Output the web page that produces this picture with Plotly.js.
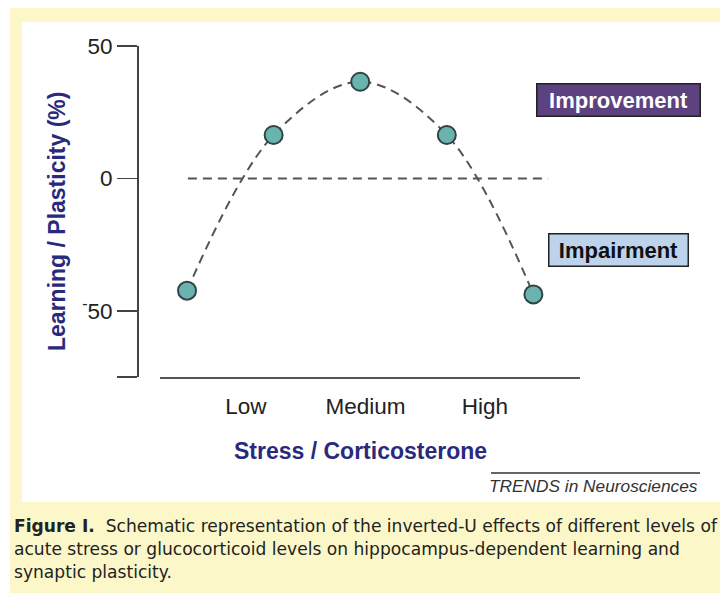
<!DOCTYPE html>
<html>
<head>
<meta charset="utf-8">
<script src="https://cdn.plot.ly/plotly-3.0.1.min.js"></script>
<style>html,body{margin:0;padding:0;background:#fff;} #chart{width:720px;height:593px;}</style>
</head>
<body>
<div id="chart"></div>
<script>
// ---- data ----
const categories = ['Low', 'Medium', 'High'];
const categoryPos = [0.68, 2.06, 3.44];
const stressLevel = [0, 1, 2, 3, 4];
const learningPct = [-42.4, 16.4, 36.5, 16.4, -43.8];
const baselineX = [0.01, 4.17];
const baselineY = [0, 0];
const yTickVals = [50, 0, -50];
const yTickText = ['50', '0', '<sup>-</sup>50'];
const yAxisEndTick = [-75];

// ---- layout helpers (pixel -> paper) ----
const W = 720, H = 593;
const px = p => p / W;
const py = p => 1 - p / H;

const FONT = 'Liberation Sans, Arial, Helvetica, sans-serif';
const NAVY = '#2a2a7c';
const CAPFONT = 'DejaVu Sans, sans-serif';

const traces = [
  {
    x: baselineX, y: baselineY, mode: 'lines', type: 'scatter',
    line: {color: '#555', width: 2, dash: '9px,6px'}, hoverinfo: 'skip', showlegend: false
  },
  {
    x: stressLevel, y: learningPct, mode: 'lines', type: 'scatter',
    line: {color: '#555', width: 2, dash: '9px,6px', shape: 'spline', smoothing: 1.0},
    hoverinfo: 'skip', showlegend: false
  },
  {
    x: stressLevel, y: learningPct, mode: 'markers', type: 'scatter',
    marker: {size: 18, color: '#6bb3ae', line: {color: '#2f4545', width: 2}},
    showlegend: false
  }
];

const layout = {
  width: W, height: H,
  margin: {l: 0, r: 0, t: 0, b: 0},
  paper_bgcolor: '#ffffff',
  plot_bgcolor: 'rgba(0,0,0,0)',
  showlegend: false,
  xaxis: {
    domain: [px(160), px(580)],
    range: [-0.312, 4.538],
    showline: true, linecolor: '#555', linewidth: 2,
    showgrid: false, zeroline: false,
    ticks: '', tickvals: categoryPos, ticktext: categories,
    ticklabelstandoff: 8,
    tickfont: {family: FONT, size: 22.5, color: '#222'},
    automargin: false, fixedrange: true
  },
  yaxis: {
    domain: [py(377), py(46)],
    range: [-75, 50],
    anchor: 'free', position: px(138),
    showline: true, linecolor: '#444', linewidth: 2,
    showgrid: false, zeroline: false,
    ticks: 'outside', ticklen: 20, tickwidth: 1.5, tickcolor: '#444',
    tickvals: yTickVals, ticktext: yTickText,
    minor: {tickvals: yAxisEndTick, ticks: 'outside', ticklen: 20, tickwidth: 1.5, tickcolor: '#444', showgrid: false},
    tickfont: {family: FONT, size: 22.5, color: '#222'},
    automargin: false, fixedrange: true
  },
  shapes: [
    {type: 'rect', xref: 'paper', yref: 'paper', layer: 'below',
     x0: px(10), x1: px(720), y0: py(593), y1: py(8), fillcolor: '#fbf7c9', line: {width: 0}},
    {type: 'rect', xref: 'paper', yref: 'paper', layer: 'below',
     x0: px(22), x1: px(720), y0: py(502), y1: py(22), fillcolor: '#ffffff', line: {width: 0}},
    {type: 'line', xref: 'paper', yref: 'paper',
     x0: px(491), x1: px(700), y0: py(473), y1: py(473), line: {color: '#333', width: 1.5}}
  ],
  annotations: [
    {xref: 'paper', yref: 'paper', x: px(57), y: py(222), text: 'Learning / Plasticity (%)',
     textangle: -90, showarrow: false, xanchor: 'center', yanchor: 'middle',
     font: {family: FONT, size: 23, color: NAVY, weight: 700}},
    {xref: 'paper', yref: 'paper', x: px(360), y: py(451), text: 'Stress / Corticosterone',
     showarrow: false, xanchor: 'center', yanchor: 'middle',
     font: {family: FONT, size: 23, color: NAVY, weight: 700}},
    {xref: 'paper', yref: 'paper', x: px(618.5), y: py(100), text: 'Improvement',
     showarrow: false, xanchor: 'center', yanchor: 'middle',
     width: 158, height: 27, bgcolor: '#5d4280', bordercolor: '#222', borderwidth: 1.5, borderpad: 2,
     font: {family: FONT, size: 22, color: '#ffffff', weight: 700}},
    {xref: 'paper', yref: 'paper', x: px(618.5), y: py(250), text: 'Impairment',
     showarrow: false, xanchor: 'center', yanchor: 'middle',
     width: 134, height: 27, bgcolor: '#bdd3ec', bordercolor: '#222', borderwidth: 1.5, borderpad: 2,
     font: {family: FONT, size: 22, color: '#111', weight: 700}},
    {xref: 'paper', yref: 'paper', x: px(700), y: py(486), text: 'TRENDS in Neurosciences',
     showarrow: false, xanchor: 'right', yanchor: 'middle',
     font: {family: FONT, size: 17.3, color: '#333', style: 'italic'}},
    {xref: 'paper', yref: 'paper', x: px(12), y: py(526), align: 'left',
     text: '<b>Figure I.</b>  Schematic representation of the inverted-U effects of different levels of',
     showarrow: false, xanchor: 'left', yanchor: 'middle',
     font: {family: CAPFONT, size: 17.1, color: '#222'}},
    {xref: 'paper', yref: 'paper', x: px(12), y: py(549), align: 'left',
     text: 'acute stress or glucocorticoid levels on hippocampus-dependent learning and',
     showarrow: false, xanchor: 'left', yanchor: 'middle',
     font: {family: CAPFONT, size: 17.1, color: '#222'}},
    {xref: 'paper', yref: 'paper', x: px(12), y: py(572), align: 'left',
     text: 'synaptic plasticity.',
     showarrow: false, xanchor: 'left', yanchor: 'middle',
     font: {family: CAPFONT, size: 17.1, color: '#222'}}
  ]
};

Plotly.newPlot('chart', traces, layout, {displayModeBar: false, staticPlot: true});
</script>
</body>
</html>
